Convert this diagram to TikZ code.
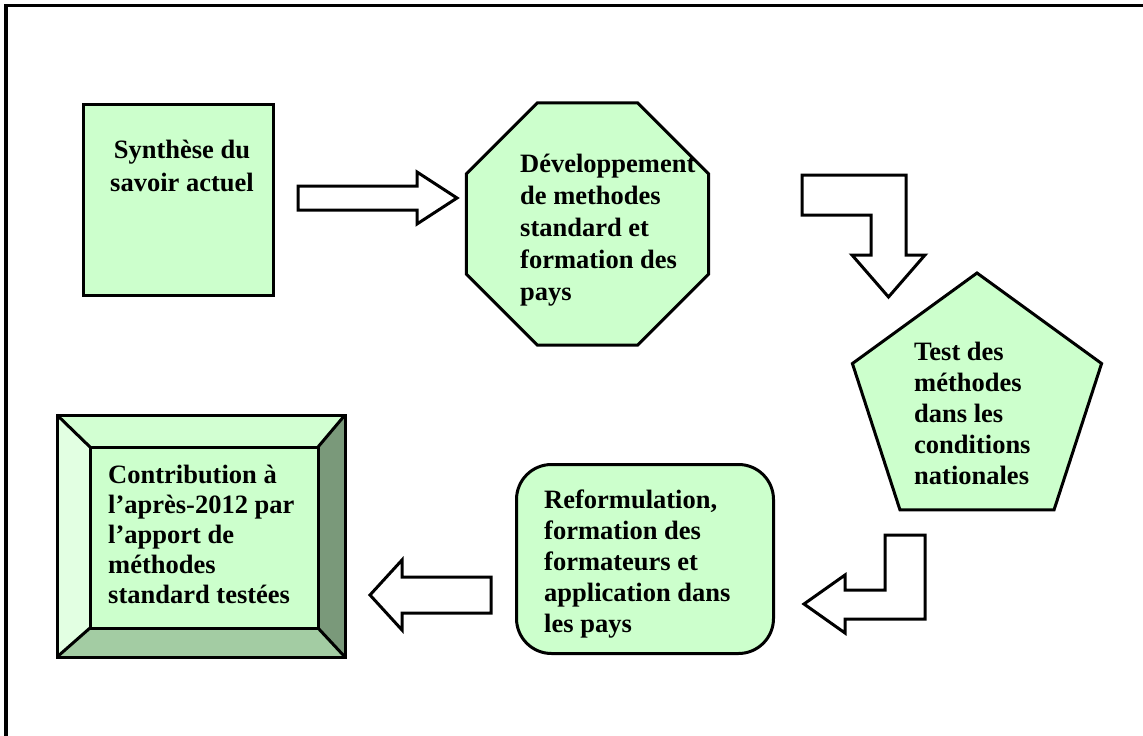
\documentclass[tikz,border=0pt]{standalone}
\usepackage{fontspec}
\setmainfont{Liberation Serif}
\usetikzlibrary{shapes.geometric}
\definecolor{lg}{HTML}{CCFFCC}
\definecolor{bevleft}{HTML}{E2FFE2}
\definecolor{bevtop}{HTML}{D2FFD2}
\definecolor{bevbot}{HTML}{A3CCA3}
\definecolor{bevright}{HTML}{7A997A}
\tikzset{
  shapebox/.style={draw=black, line width=3pt, fill=lg, inner sep=0pt, outer sep=0pt},
  txt/.style={font=\fontsize{26.5}{31}\selectfont\bfseries, inner sep=0pt, align=left, anchor=north west},
  blockarrow/.style={draw=black, line width=3pt, fill=white, line join=miter},
  bevel/.style={draw=black, line width=3pt, line join=miter},
}
\begin{document}
\begin{tikzpicture}[x=1pt,y=-1pt]
\useasboundingbox (0,0) rectangle (1143,736);
\fill[white] (0,0) rectangle (1143,736);
% outer frame (only top and left visible)
\draw[line width=3.5pt] (6,760) -- (6,5.5) -- (1160,5.5);

% nodes (shapes)
\node[shapebox, rectangle, minimum width=190, minimum height=191] (syn) at (178.5,200) {};
\node[shapebox, regular polygon, regular polygon sides=8, minimum size=262] (dev) at (587.5,224) {};
\node[shapebox, regular polygon, regular polygon sides=5, minimum size=262] (test) at (977,404) {};
\node[shapebox, rectangle, rounded corners=35, minimum width=257, minimum height=189] (ref) at (645,559) {};

% bevel box
\coordinate (oTL) at (57,415); \coordinate (oTR) at (345,415);
\coordinate (oBR) at (345,657); \coordinate (oBL) at (57,657);
\coordinate (iTL) at (90,447); \coordinate (iTR) at (318,447);
\coordinate (iBR) at (318,628); \coordinate (iBL) at (90,628);
\fill[bevtop] (oTL) -- (oTR) -- (iTR) -- (iTL) -- cycle;
\fill[bevleft] (oTL) -- (iTL) -- (iBL) -- (oBL) -- cycle;
\fill[bevright] (oTR) -- (oBR) -- (iBR) -- (iTR) -- cycle;
\fill[bevbot] (oBL) -- (iBL) -- (iBR) -- (oBR) -- cycle;
\node[shapebox, rectangle, minimum width=228, minimum height=181] (contr) at (204,537.5) {};
\draw[bevel] (oTL) rectangle (oBR);
\draw[bevel] (oTL) -- (iTL) (oTR) -- (iTR) (oBR) -- (iBR) (oBL) -- (iBL);

% texts
\node[txt, align=center, anchor=north, font=\fontsize{26.5}{32.5}\selectfont\bfseries] (syntxt) at (182,140) {Synthèse du\\savoir actuel};
\node[txt, font=\fontsize{26.5}{32}\selectfont\bfseries] (devtxt) at (520,154) {Développement\\de methodes\\standard et\\formation des\\pays};
\node[txt] (testtxt) at (914,342) {Test des\\méthodes\\dans les\\conditions\\nationales};
\node[txt] (reftxt) at (544,490) {Reformulation,\\formation des\\formateurs et\\application dans\\les pays};
\node[txt, font=\fontsize{26.5}{30}\selectfont\bfseries] (contrtxt) at (108,465) {Contribution à\\l’après-2012 par\\l’apport de\\méthodes\\standard testées};

% block arrows
\draw[blockarrow] (298,186) -- (417,186) -- (417,172) -- (457,198) -- (417,224) -- (417,210) -- (298,210) -- cycle;
\draw[blockarrow] (802,175) -- (906,175) -- (906,255) -- (925,255) -- (888.5,297) -- (852,255) -- (871,255) -- (871,215) -- (802,215) -- cycle;
\draw[blockarrow] (925,535) -- (925,619) -- (845,619) -- (845,633) -- (804,604) -- (845,575) -- (845,590) -- (885,590) -- (885,535) -- cycle;
\draw[blockarrow] (491,577) -- (402,577) -- (402,560) -- (370,595) -- (402,630) -- (402,613) -- (491,613) -- cycle;
\end{tikzpicture}
\end{document}
